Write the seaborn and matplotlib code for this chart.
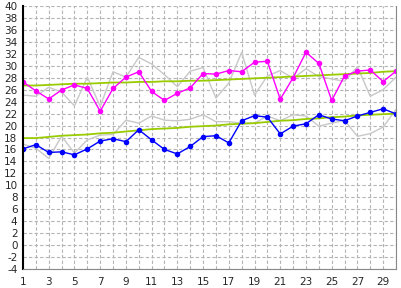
import numpy as np
import pandas as pd
import matplotlib
matplotlib.use("Agg")
import matplotlib.pyplot as plt
import seaborn as sns

days = list(range(1, 31))
high = [27.3, 25.8, 24.45, 25.95, 26.8, 26.2, 22.4, 26.2, 28.1, 29.0,
        25.7, 24.2, 25.4, 26.3, 28.7, 28.6, 29.2, 29.0, 30.6, 30.75,
        24.4, 28.0, 32.25, 30.4, 24.2, 28.3, 29.1, 29.3, 27.35, 29.1]
low = [16.1, 16.8, 15.5, 15.6, 15.1, 16.1, 17.4, 17.8, 17.3, 19.3,
       17.6, 16.0, 15.25, 16.5, 18.15, 18.3, 17.1, 20.8, 21.65, 21.4,
       18.6, 19.9, 20.3, 21.8, 21.1, 20.8, 21.6, 22.2, 22.8, 21.95]
prev_high = [25.1, 24.9, 26.4, 25.6, 23.3, 28.1, 23.2, 29.0, 28.1, 31.4,
             30.3, 28.5, 26.5, 29.1, 29.7, 24.6, 27.1, 32.25, 25.1, 28.3,
             29.2, 27.9, 29.5, 28.2, 27.8, 27.4, 29.85, 24.9, 26.0, 28.1]
prev_low = [16.9, 16.2, 14.5, 18.2, 15.4, 17.6, 18.4, 18.5, 20.9, 20.4,
            21.6, 20.9, 20.8, 21.05, 21.8, 20.65, 20.65, 20.4, 20.4, 21.6,
            20.8, 21.8, 21.6, 19.9, 20.4, 20.85, 18.2, 18.65, 19.75, 22.7]
norm_high = [26.7, 26.7, 26.8, 26.9, 27.0, 27.0, 27.1, 27.2, 27.2, 27.3,
             27.3, 27.4, 27.4, 27.5, 27.5, 27.6, 27.7, 27.8, 27.9, 28.0,
             28.1, 28.2, 28.3, 28.4, 28.5, 28.6, 28.7, 28.8, 29.0, 29.1]
norm_low = [17.9, 17.9, 18.1, 18.3, 18.4, 18.5, 18.7, 18.8, 19.0, 19.2,
            19.4, 19.5, 19.6, 19.8, 19.9, 20.0, 20.2, 20.3, 20.4, 20.6,
            20.8, 20.9, 21.1, 21.2, 21.4, 21.5, 21.7, 21.8, 21.9, 22.0]
x_ticks = list(range(1, 31, 2))
y_ticks = list(range(-4, 41, 2))

df = pd.DataFrame({"day": days, "high": high, "low": low,
                   "prev_high": prev_high, "prev_low": prev_low,
                   "norm_high": norm_high, "norm_low": norm_low})

sns.set_style("white")
plt.rcParams['font.family'] = ['DejaVu Sans']

fig = plt.figure(figsize=(4.01, 2.88), dpi=100)
ax = fig.add_axes([23/401, 19/288, 373/401, 263/288])

for col in ["prev_high", "prev_low"]:
    sns.lineplot(data=df, x="day", y=col, ax=ax, color="#c8c8c8", lw=1.0)
for col in ["norm_high", "norm_low"]:
    sns.lineplot(data=df, x="day", y=col, ax=ax, color="#99cc00", lw=1.3)
sns.lineplot(data=df, x="day", y="high", ax=ax, color="#ff00ff", lw=1.0,
             marker="o", markersize=4, markeredgewidth=0)
sns.lineplot(data=df, x="day", y="low", ax=ax, color="#0000ff", lw=1.0,
             marker="o", markersize=4, markeredgewidth=0)

ax.set_xlim(1, 30)
ax.set_ylim(-4, 40)
ax.set_xticks(days, minor=False)
ax.set_xticklabels([str(d) if d in x_ticks else "" for d in days])
ax.set_yticks(y_ticks)
ax.set_yticklabels([str(v) for v in y_ticks])
ax.grid(True, color="#b4b4b4", linestyle=(0, (3, 2)), linewidth=0.8)
ax.set_axisbelow(True)
ax.set_xlabel("")
ax.set_ylabel("")
for s in ["top"]:
    ax.spines[s].set_visible(False)
ax.spines["left"].set_color("black")
ax.spines["left"].set_linewidth(1.5)
ax.spines["bottom"].set_color("#888888")
ax.spines["right"].set_color("#888888")
ax.tick_params(axis="y", length=3, width=1, color="black", labelsize=7.5, pad=1)
ax.tick_params(axis="x", length=0, labelsize=7.5, pad=6)

fig.savefig("out.png", dpi=100)
